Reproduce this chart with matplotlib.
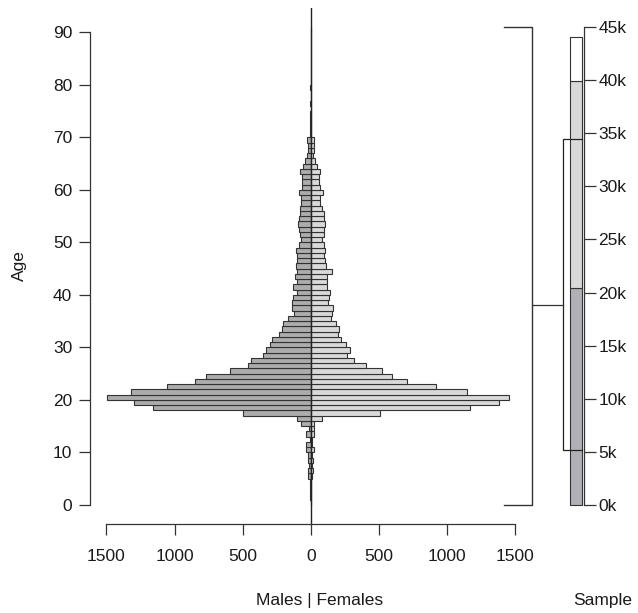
import numpy as np
import matplotlib.pyplot as plt

plt.rcParams['font.family'] = ['Liberation Sans', 'DejaVu Sans']

# age-group counts, one bar per year of age (0..90)
ages = list(range(0, 91))
males = [2, 3, 4, 3, 5, 22, 22, 10, 18, 18,
         38, 38, 5, 32, 12, 73, 100, 497, 1161, 1296,
         1495, 1319, 1055, 852, 768, 595, 463, 441, 353, 328,
         299, 284, 236, 214, 207, 167, 126, 139, 137, 132,
         105, 134, 103, 117, 105, 112, 105, 98, 107, 86,
         71, 83, 86, 95, 90, 83, 78, 73, 73, 88,
         64, 66, 68, 76, 59, 46, 27, 24, 22, 29,
         4, 3, 3, 4, 3, 2, 3, 2, 2, 3,
         2, 2, 1, 2, 1, 1, 1, 1, 1, 1, 1]
females = [2, 2, 3, 2, 4, 10, 15, 5, 15, 10,
           20, 10, 5, 20, 20, 20, 81, 509, 1171, 1379,
           1452, 1147, 921, 705, 597, 519, 402, 314, 262, 290,
           255, 221, 196, 207, 187, 148, 158, 164, 125, 132,
           137, 117, 120, 115, 154, 112, 105, 95, 105, 100,
           81, 100, 98, 103, 93, 95, 81, 68, 68, 88,
           68, 59, 59, 68, 44, 32, 15, 24, 24, 20,
           3, 3, 2, 3, 2, 2, 2, 2, 1, 2,
           1, 1, 1, 1, 1, 1, 1, 1, 1, 1, 1]

# sample composition (stacked bar on the right)
sample_parts = [20400, 19500, 4200]
sample_colors = ['#b1b1b5', '#d9d9d9', '#ffffff']
sample_range = [5180, 34500]
link_level = 18800

x_ticks = [-1500, -1000, -500, 0, 500, 1000, 1500]
y_ticks = list(range(0, 91, 10))
k_ticks = list(range(0, 45001, 5000))

edge = '#333333'
fs = 12.5
W, H = 638, 613
fig = plt.figure(figsize=(W / 100, H / 100), dpi=100)

# main pyramid panel
ax = fig.add_axes([90 / W, (H - 524) / H, (531.7 - 90) / W, (524 - 8) / H])
ax.barh(ages, [-m for m in males], height=1, align='edge', color='#acacac',
        edgecolor=edge, linewidth=0.8)
ax.barh(ages, females, height=1, align='edge', color='#d9d9d9',
        edgecolor=edge, linewidth=0.8)
ax.axvline(0, color='#222222', lw=1.0)
ax.set_xlim(-1620, 1620)
ax.set_ylim(-3.64, 94.64)
for s in ['top', 'right']:
    ax.spines[s].set_visible(False)
ax.spines['left'].set_bounds(0, 90)
ax.spines['bottom'].set_bounds(-1500, 1500)
for s in ['left', 'bottom']:
    ax.spines[s].set_color('#333333')
    ax.spines[s].set_linewidth(0.9)
ax.set_xticks(x_ticks)
ax.set_xticklabels([str(abs(v)) for v in x_ticks])
ax.set_yticks(y_ticks)
ax.tick_params(axis='both', direction='out', length=7.7, width=0.9,
               color='#333333', labelsize=fs, labelcolor='#1a1a1a')
ax.tick_params(axis='x', pad=10.5)
ax.tick_params(axis='y', pad=5)
ax.set_ylabel('Age', fontsize=fs, color='#1a1a1a', labelpad=19)
ax.text((320 - 90) / (531.7 - 90), -0.148, 'Males | Females', transform=ax.transAxes,
        ha='center', va='center', fontsize=fs, color='#1a1a1a')

# bracket spanning the age range at the right edge of the panel
ax.plot([1420, 1620, 1620, 1420], [0, 0, 91, 91], color='#333333', lw=1.0,
        clip_on=False)

# sample panel
ax2 = fig.add_axes([531.7 / W, (H - 524) / H, (584.3 - 531.7) / W, (524 - 8) / H])
ax2.patch.set_visible(False)
ax2.set_xlim(0, 1)
ax2.set_ylim(-1800, 46800)
bottoms = np.concatenate([[0], np.cumsum(sample_parts)[:-1]])
ax2.bar([0.84] * len(sample_parts), sample_parts, bottom=bottoms, width=0.223,
        color=sample_colors, edgecolor=edge, linewidth=0.8)
ax2.plot([0.951, 0.6, 0.6, 0.951], [sample_range[0], sample_range[0],
         sample_range[1], sample_range[1]], color='#222222', lw=0.9)
ax2.plot([0, 0.6], [link_level, link_level], color='#333333', lw=0.9, clip_on=False)
for s in ['top', 'left', 'bottom']:
    ax2.spines[s].set_visible(False)
ax2.spines['right'].set_bounds(0, 45000)
ax2.spines['right'].set_color('#333333')
ax2.spines['right'].set_linewidth(0.9)
ax2.set_xticks([])
ax2.yaxis.tick_right()
ax2.set_yticks(k_ticks)
ax2.set_yticklabels([f'{v // 1000}k' for v in k_ticks])
ax2.tick_params(axis='y', direction='out', length=8.8, width=0.9, color='#333333',
                labelsize=fs, labelcolor='#1a1a1a', pad=1.5)
ax2.text(1.35, -0.148, 'Sample', transform=ax2.transAxes, ha='center', va='center',
         fontsize=fs, color='#1a1a1a')

fig.savefig('out.png', dpi=100)
